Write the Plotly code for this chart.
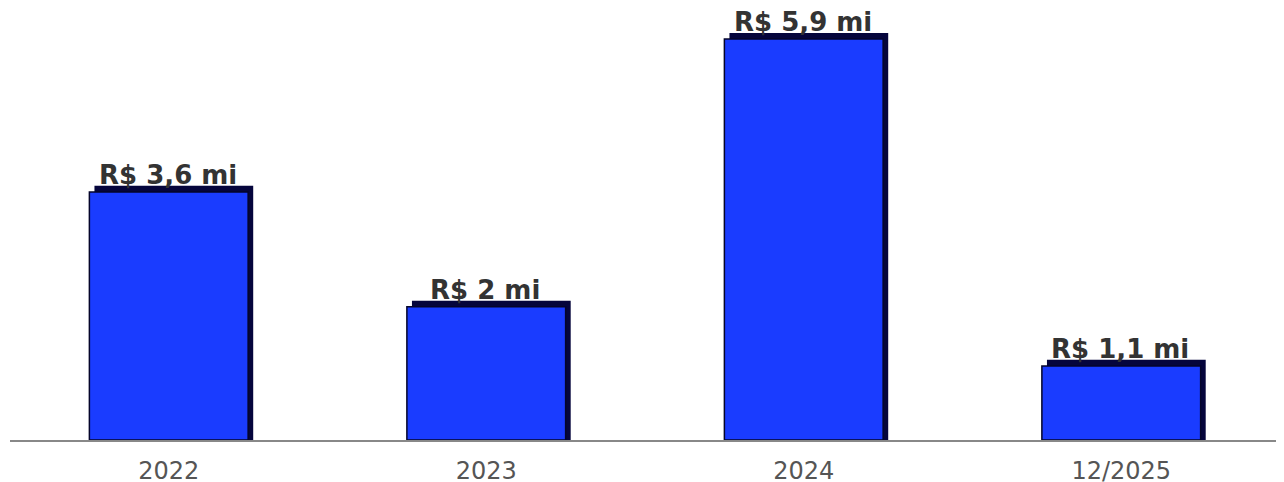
import plotly.graph_objects as go

categories = ["2022", "2023", "2024", "12/2025"]
values = [3.65, 1.96, 5.9, 1.09]
labels = ["R$ 3,6 mi", "R$ 2 mi", "R$ 5,9 mi", "R$ 1,1 mi"]

shadow_dy = 0.09   # vertical depth of 3D shadow in data units
bar_w = 0.5
shadow_dx = 0.016

fig = go.Figure()
# shadow (depth) bars
fig.add_trace(go.Bar(
    x=categories, y=[v + shadow_dy for v in values],
    width=bar_w, offset=-bar_w / 2 + shadow_dx,
    marker=dict(color="#05053c", line=dict(width=0)),
    hoverinfo="skip", showlegend=False,
))
# main bars
fig.add_trace(go.Bar(
    x=categories, y=values,
    width=bar_w, offset=-bar_w / 2,
    marker=dict(color="#1a3cff", line=dict(color="#05052a", width=1.5)),
    showlegend=False,
))
for i, (v, t) in enumerate(zip(values, labels)):
    fig.add_annotation(
        x=i, y=v + shadow_dy, text=t, showarrow=False,
        yanchor="bottom", xanchor="center", yshift=-6, xshift=-1,
        font=dict(family="DejaVu Sans", size=26, color="#333333", weight="bold"),
    )

fig.update_layout(
    width=1284, height=482,
    margin=dict(l=2, r=12, t=12, b=50),
    paper_bgcolor="white", plot_bgcolor="white",
    barmode="overlay",
    xaxis=dict(
        type="category", automargin=False, range=[-0.5, 3.5],
        categoryorder="array", categoryarray=categories,
        showline=True, linecolor="#888888", linewidth=1.5,
        showgrid=False, ticks="", ticklabelstandoff=8,
        tickfont=dict(family="DejaVu Sans", size=24, color="#555555"),
    ),
    yaxis=dict(range=[0, 6.18], visible=False, showgrid=False, zeroline=False),
)

fig.write_html("out.html")
